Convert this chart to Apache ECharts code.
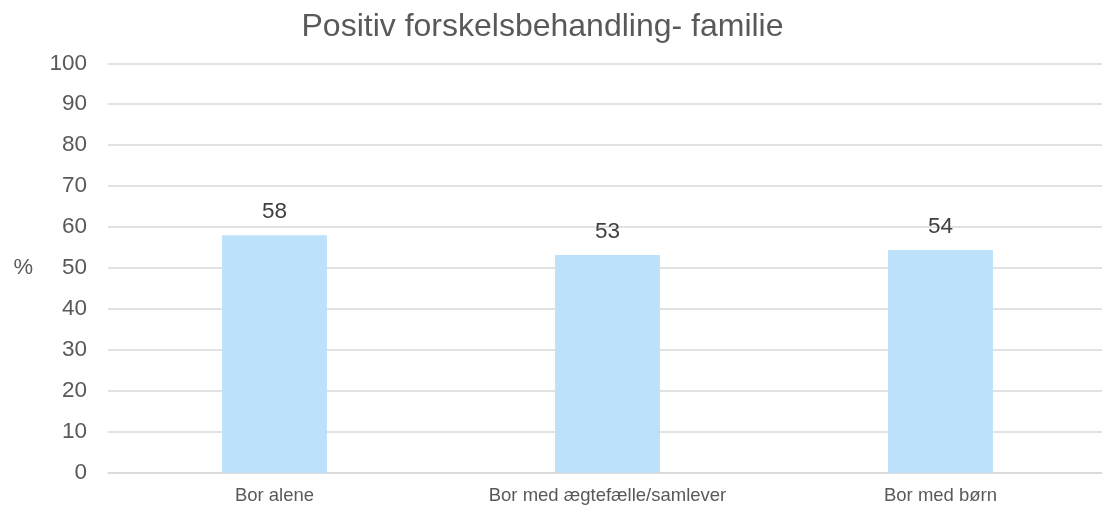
<!DOCTYPE html>
<html><head><meta charset="utf-8">
<script src="https://cdn.jsdelivr.net/npm/echarts@6/dist/echarts.min.js"></script>
<style>html,body{margin:0;padding:0;background:#fff;overflow:hidden}#c{width:1110px;height:508px}</style>
</head><body><div id="c"></div>
<script>
const categories = ['Bor alene', 'Bor med ægtefælle/samlever', 'Bor med børn'];
const values = [58, 53.2, 54.4];
const valueLabels = ['58', '53', '54'];
const chart = echarts.init(document.getElementById('c'));
chart.setOption({
  animation: false,
  title: {
    text: 'Positiv forskelsbehandling- familie',
    left: 537.5, textAlign: 'center', top: 6,
    textStyle: {fontFamily: 'Liberation Sans', fontSize: 32, fontWeight: 'normal', color: '#595959'}
  },
  grid: {left: 108, top: 63.3, width: 999, height: 409.4, containLabel: false},
  xAxis: {
    type: 'category', data: categories,
    axisLine: {lineStyle: {color: '#d9d9d9', width: 1.5}},
    axisTick: {show: false},
    axisLabel: {fontFamily: 'Liberation Sans', fontSize: 18.5, color: '#595959', margin: 14}
  },
  yAxis: {
    type: 'value', min: 0, max: 100, interval: 10,
    name: '%', nameLocation: 'middle', nameRotate: 0, nameGap: 75,
    nameTextStyle: {fontFamily: 'Liberation Sans', fontSize: 22, color: '#595959'},
    axisLine: {show: false}, axisTick: {show: false},
    splitLine: {lineStyle: {color: '#d9d9d9', width: 1.5}},
    axisLabel: {fontFamily: 'Liberation Sans', fontSize: 22.5, color: '#595959', margin: 21}
  },
  series: [{
    type: 'bar', data: values, barWidth: '31.5%',
    itemStyle: {color: '#BDE1FB'},
    label: {
      show: true, position: 'top', distance: 12,
      fontFamily: 'Liberation Sans', fontSize: 22.5, color: '#404040',
      formatter: p => valueLabels[p.dataIndex]
    }
  }]
});
</script></body></html>
